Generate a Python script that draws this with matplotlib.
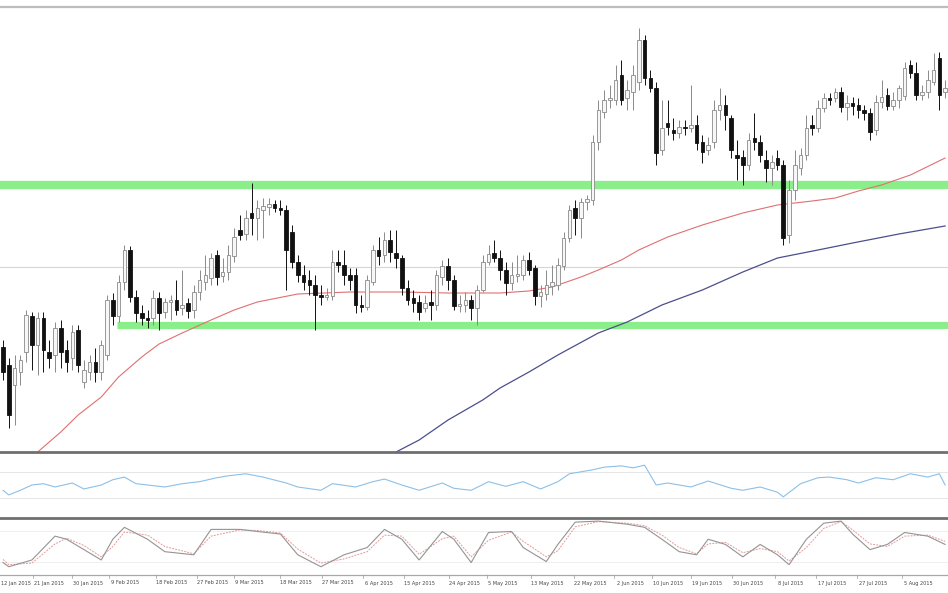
import matplotlib
matplotlib.use('Agg')
import matplotlib.pyplot as plt
from matplotlib.lines import Line2D
import numpy as np

# ---------------- data (price units) ----------------
opens = [153,135,115,128,148,184,155,182,148,145,
         172,150,142,170,118,128,138,128,145,200,
         184,218,250,203,187,182,182,202,188,198,
         200,192,197,190,208,218,222,245,224,228,
         244,270,266,287,282,290,293,296,292,290,
         268,238,225,220,215,205,203,204,238,235,
         225,225,195,193,218,250,245,260,247,242,
         212,202,198,192,198,195,223,234,220,194,
         195,200,192,210,238,247,242,230,217,224,
         225,240,232,204,206,214,215,234,262,292,
         282,298,300,358,388,400,400,425,402,408,
         418,460,422,412,350,377,370,367,373,372,
         375,358,350,358,390,395,382,345,343,335,
         362,358,340,332,342,335,265,310,332,345,
         375,372,392,402,402,408,393,397,395,390,
         387,370,398,405,394,400,404,435,427,405,
         408,418,442,408]
closes = [128,85,132,140,185,155,182,150,142,172,
          148,138,168,135,130,138,128,155,200,184,
          218,250,203,187,182,180,202,187,198,200,
          190,195,189,208,220,225,242,223,228,245,
          263,265,282,282,292,294,296,292,290,250,
          238,225,218,215,205,203,205,238,235,225,
          220,195,193,220,250,244,260,248,242,212,
          200,197,188,197,195,225,234,220,194,196,
          200,192,210,238,246,242,230,217,225,226,
          240,230,204,208,215,218,235,262,290,282,
          298,301,358,390,400,402,420,400,410,425,
          460,422,412,347,372,373,367,373,372,375,
          357,348,355,390,395,385,350,342,335,360,
          358,345,332,338,335,262,310,335,345,372,
          372,392,402,400,408,393,397,394,390,387,
          368,398,403,394,400,412,432,427,405,408,
          420,430,405,412]
highs = [160,142,145,145,190,188,188,188,160,178,
         180,160,175,175,140,145,152,160,205,207,
         225,255,254,210,195,190,210,208,202,205,
         220,230,202,215,230,245,247,250,242,255,
         272,285,290,317,300,302,302,300,300,295,
         275,245,235,230,225,215,212,250,250,250,
         232,232,205,225,255,263,268,270,270,245,
         220,210,205,205,210,230,240,242,225,205,
         208,205,215,245,255,260,250,238,238,245,
         245,248,235,215,230,235,242,268,295,300,
         302,305,365,400,410,415,435,440,420,435,
         472,465,430,418,400,400,382,380,380,415,
         385,365,363,400,412,405,385,360,350,367,
         387,365,350,345,350,340,320,350,352,385,
         385,400,407,407,412,413,405,403,402,395,
         392,405,420,412,408,415,438,440,438,415,
         430,447,448,420]
lows = [120,72,75,115,138,130,125,128,132,128,
        132,128,130,128,112,120,118,120,140,175,
        178,210,198,178,175,172,175,170,182,180,
        185,185,182,182,200,210,215,215,218,220,
        238,260,260,265,260,262,285,288,285,210,
        232,218,210,205,170,195,200,200,228,215,
        210,187,188,190,215,235,238,238,232,205,
        195,188,180,188,180,190,215,210,190,188,
        188,180,175,208,235,238,220,205,210,218,
        220,225,195,193,200,205,210,230,258,265,
        262,290,295,350,382,392,395,395,390,390,
        410,415,408,335,345,365,360,362,365,368,
        350,337,345,352,380,370,342,320,315,330,
        350,338,318,315,330,255,257,300,325,340,
        365,368,388,395,398,388,380,385,382,380,
        360,365,392,390,390,392,400,422,400,400,
        402,415,390,402]

# moving averages (read at sample candles)
ma_fast_idx = [5, 7, 10, 13, 17, 20, 24, 27, 31, 36, 40, 44, 51, 60, 69, 77, 86, 91, 95,
               100, 103, 107, 110, 115, 121, 128, 134, 140, 144, 148, 152, 157, 163]
ma_fast_val = [43, 53, 68, 85, 103, 123, 143, 156, 167, 180, 190, 198, 206, 208, 208, 207, 207, 209, 213,
               223, 230, 240, 250, 263, 275, 287, 295, 299, 302, 309, 315, 325, 342]
ma_slow_idx = [68, 72, 77, 83, 86, 91, 96, 103, 108, 114, 121, 128, 134, 141, 147, 155, 163]
ma_slow_val = [48, 60, 80, 100, 112, 128, 145, 167, 178, 195, 210, 228, 242, 250, 257, 266, 274]

# support / resistance levels
level_upper = 315
level_lower = 175
level_lower_start = 19.8
grid_level = 233

# RSI
rsi_idx = [0,1,3,5,7,9,12,14,17,19,21,23,25,28,31,34,37,39,42,45,49,51,55,57,61,64,66,69,72,76,
           78,81,84,87,90,93,96,98,102,104,107,109,111,113,115,119,122,126,128,131,134,135,138,141,143,
           146,148,151,154,157,160,162,163]
rsi_val = [42,35,42,50,52,47,53,44,50,58,62,52,50,47,52,55,61,64,67,62,53,47,42,52,47,55,59,50,42,53,
           45,42,55,48,55,44,55,67,73,77,79,76,80,50,53,47,56,45,42,47,39,32,52,61,62,
           58,53,61,58,67,62,67,50]

# Stochastic
sto_idx = [0,1,5,9,11,14,17,19,21,25,28,33,36,41,44,48,51,55,59,63,66,69,72,76,78,81,84,88,90,94,
           96,99,103,108,111,114,117,120,122,125,128,131,134,136,139,142,145,147,150,153,156,160,163]
sto_k = [19,11,24,70,64,44,24,64,87,64,40,34,83,83,79,74,34,11,34,48,83,64,24,79,64,19,77,79,48,21,
         54,97,99,93,87,64,40,34,64,54,30,54,34,15,64,95,99,74,44,54,77,70,54]
sto_d = [25,15,18,55,66,52,30,50,78,72,50,36,70,82,81,76,45,18,26,40,72,70,35,65,70,30,62,78,60,30,
         42,88,98,95,90,72,48,36,55,58,38,46,40,22,48,85,98,82,55,50,70,72,60]

date_pos = [1.4, 8.0, 14.7, 21.1, 29.2, 36.3, 42.7, 50.7, 58.0, 65.1, 72.1, 79.9, 86.5, 94.1,
            101.6, 108.5, 115.1, 121.8, 128.9, 136.3, 143.4, 150.5, 158.3]
date_labels = ["12 Jan 2015", "21 Jan 2015", "30 Jan 2015", "9 Feb 2015", "18 Feb 2015", "27 Feb 2015",
               "9 Mar 2015", "18 Mar 2015", "27 Mar 2015", "6 Apr 2015", "15 Apr 2015", "24 Apr 2015",
               "5 May 2015", "13 May 2015", "22 May 2015", "2 Jun 2015", "10 Jun 2015", "19 Jun 2015",
               "30 Jun 2015", "8 Jul 2015", "17 Jul 2015", "27 Jul 2015", "5 Aug 2015"]

# ---------------- figure ----------------
W, H = 948, 593
fig = plt.figure(figsize=(W / 100, H / 100), dpi=100)
fig.patch.set_facecolor('white')

def ax_at(top_px, bottom_px):
    return fig.add_axes([0, 1 - bottom_px / H, 1, (bottom_px - top_px) / H])

XMIN, XMAX = -0.52, 163.5
ax = ax_at(7, 452)
ax_rsi = ax_at(452, 518)
ax_sto = ax_at(518, 575)
for a in (ax, ax_rsi, ax_sto):
    a.set_xlim(XMIN, XMAX)
    a.set_axis_off()

# main panel
ax.set_ylim(48, 493)
ax.axhline(grid_level, color='#d6d6d6', lw=0.8, zorder=0)
ax.axhline(level_upper, color='#8aee8a', lw=6.0, zorder=1, solid_capstyle='butt')
n = len(opens)
ax.hlines(level_lower, level_lower_start, XMAX, color='#8aee8a', lw=5.2, zorder=1)

idx = np.arange(n)
o = np.array(opens, float); c = np.array(closes, float)
h = np.array(highs, float); l = np.array(lows, float)
up = c >= o
body_lo = np.minimum(o, c)
body_h = np.maximum(np.abs(c - o), 1.2)
top = np.maximum(h, np.maximum(o, c))
bot = np.minimum(l, np.minimum(o, c))
ax.vlines(idx[up], bot[up], top[up], color='#8a8a8a', lw=0.7, zorder=3)
ax.vlines(idx[~up], bot[~up], top[~up], color='#111111', lw=0.7, zorder=3)
ax.bar(idx[up], body_h[up], bottom=body_lo[up], width=0.62, color='#f7f7f7',
       edgecolor='#8a8a8a', linewidth=0.6, zorder=4)
ax.bar(idx[~up], body_h[~up], bottom=body_lo[~up], width=0.62, color='#111111',
       edgecolor='#111111', linewidth=0.6, zorder=4)

ax.plot(ma_fast_idx, ma_fast_val, color='#e07070', lw=0.8, zorder=2)
ax.plot(ma_slow_idx, ma_slow_val, color='#4b4f8c', lw=0.9, zorder=2)

# RSI panel
ax_rsi.set_ylim(0, 100)
for lv in (70, 30):
    ax_rsi.axhline(lv, color='#e2e2e2', lw=0.6, zorder=0)
ax_rsi.plot(rsi_idx, rsi_val, color='#8cc0e8', lw=0.8)

# Stochastic panel
ax_sto.set_ylim(-5, 105)
for lv in (80, 20):
    ax_sto.axhline(lv, color='#ececec', lw=0.6, zorder=0)
ax_sto.plot(sto_idx, sto_d, color='#e39a9a', lw=0.7, ls=(0, (2, 1.2)))
ax_sto.plot(sto_idx, sto_k, color='#949494', lw=0.8)

# panel borders (figure pixels)
def hline_px(y, color, lw):
    fig.add_artist(Line2D([0, 1], [1 - y / H, 1 - y / H], transform=fig.transFigure,
                          color=color, lw=lw))

hline_px(7, '#bdbdbd', 1.6)
hline_px(452, '#6f6f6f', 2.0)
hline_px(518, '#6f6f6f', 2.0)
hline_px(575, '#a8a8a8', 0.9)

# date labels
for k, (p, t) in enumerate(zip(date_pos, date_labels)):
    xf = (p - XMIN) / (XMAX - XMIN)
    if k == 0:
        fig.text(1 / W, 1 - 583 / H, t, ha='left', va='center', fontsize=3.6, color='#444444')
    else:
        fig.text(xf, 1 - 583 / H, t, ha='center', va='center', fontsize=3.6, color='#444444')
    fig.add_artist(Line2D([xf - 16 / W, xf - 16 / W], [1 - 575 / H, 1 - 578 / H],
                          transform=fig.transFigure, color='#999999', lw=0.5))

fig.savefig('out.png', dpi=100, facecolor='white')
